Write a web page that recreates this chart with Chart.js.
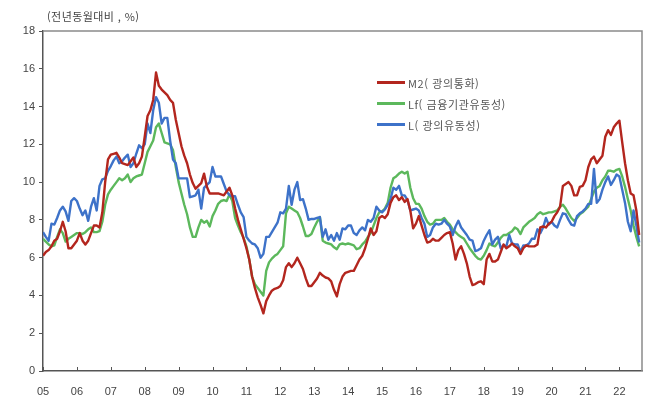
<!DOCTYPE html>
<html lang="ko">
<head>
  <meta charset="UTF-8">
  <title>M2 / Lf / L 증가율</title>
  <script src="https://cdn.jsdelivr.net/npm/chart.js"></script>
  <style>
    body { margin: 0; background: #fff; }
    .wrap { position: relative; width: 670px; height: 402px; }
    .unit {
      position: absolute; left: 47px; top: 9px;
      font: 11px "Noto Sans CJK KR", "Liberation Sans", sans-serif;
      color: #444; letter-spacing: 0.4px; line-height: 14px;
    }
    .legend {
      position: absolute; left: 377px; top: 72px;
      font: 11px "Noto Sans CJK KR", "Liberation Sans", sans-serif;
      color: #555; letter-spacing: 0.6px;
    }
    .legend div { height: 21px; line-height: 16px; display: flex; align-items: center; }
    .legend span.key { display: inline-block; width: 28px; height: 3px; margin-right: 3px; }
  </style>
</head>
<body>
  <div class="wrap">
    <canvas id="moneyChart" width="670" height="402"></canvas>
    <div class="unit">(전년동월대비 , %)</div>
    <div class="legend" id="legend"></div>
  </div>

  <script>
    // tick labels for the x axis (one per year, Jan)
    const years = ['05','06','07','08','09','10','11','12','13','14','15','16','17','18','19','20','21','22'];

    // monthly YoY growth, Jan 2005 - Aug 2022
    const m2 = [
      6.1, 6.3, 6.4, 6.6, 6.9, 7.0, 7.4, 7.9, 7.4, 6.5, 6.5, 6.7,
      6.9, 7.3, 6.9, 6.7, 6.9, 7.3, 7.7, 7.7, 7.6, 8.4, 10.0, 11.2,
      11.45, 11.5, 11.55, 11.3, 11.0, 10.95, 10.9, 11.1, 11.3, 10.8, 11.0, 11.35,
      12.4, 13.5, 13.8, 14.35, 15.8, 15.1, 14.9, 14.75, 14.6, 14.35, 14.2, 13.3,
      12.6, 11.9, 11.4, 11.0, 10.4, 9.95, 9.65, 9.8, 9.95, 10.45, 9.75, 9.4,
      9.4, 9.4, 9.4, 9.35, 9.3, 9.5, 9.7, 9.3, 8.6, 8.0, 7.5, 7.0,
      6.5, 5.9, 5.0, 4.4, 3.9, 3.5, 3.05, 3.7, 4.0, 4.25, 4.35, 4.4,
      4.5, 4.8, 5.5, 5.7, 5.5, 5.7, 6.0, 5.7, 5.4, 4.9, 4.5, 4.5,
      4.7, 4.9, 5.2, 5.05, 4.95, 4.9, 4.75, 4.3, 3.95, 4.6, 5.0, 5.2,
      5.25, 5.3, 5.3, 5.6, 5.9, 6.1, 6.5, 7.0, 7.55, 7.2, 7.4, 8.1,
      8.2, 8.1, 8.3, 8.9, 9.2, 9.3, 9.05, 9.2, 8.95, 9.1, 8.5, 7.55,
      7.8, 8.2, 7.7, 7.2, 6.8, 6.85, 7.0, 6.9, 6.9, 7.05, 7.2, 7.3,
      7.35, 6.75, 5.9, 6.4, 6.6, 6.2, 5.7, 5.0, 4.55, 4.6, 4.7, 4.75,
      4.6, 5.9, 6.2, 5.8, 5.8, 5.9, 6.3, 6.7, 6.5, 6.6, 6.75, 6.6,
      6.5, 6.2, 6.5, 6.65, 6.6, 6.6, 6.6, 6.7, 7.6, 7.65, 7.6, 7.8,
      7.9, 8.2, 8.4, 8.7, 9.8, 9.9, 10.0, 9.8, 9.3, 9.3, 9.75, 9.8,
      10.1, 10.8, 11.2, 11.35, 11.0, 11.2, 11.4, 12.4, 12.75, 12.5, 12.9, 13.1,
      13.25, 12.1, 11.0, 10.1, 9.4, 9.3, 8.5, 7.2
    ];
    const lf = [
      7.0, 6.85, 6.7, 6.6, 6.65, 7.1, 7.5, 7.3, 6.85, 7.0, 7.1, 7.2,
      7.3, 7.3, 7.25, 7.35, 7.5, 7.6, 7.35, 7.35, 7.4, 7.9, 8.8, 9.35,
      9.6, 9.8, 10.0, 10.2, 10.1, 10.2, 10.4, 10.0, 10.2, 10.3, 10.35, 10.4,
      11.0, 11.6, 11.9, 12.2, 12.9, 13.1, 12.6, 12.1, 12.05, 12.0, 11.7, 10.8,
      10.0, 9.4, 8.8, 8.3, 7.6, 7.1, 7.1, 7.6, 8.0, 7.85, 7.95, 7.65,
      8.2, 8.5, 8.85, 9.0, 9.05, 9.0, 9.35, 9.0, 8.1, 7.7, 7.35, 7.05,
      6.6, 5.9, 5.0, 4.6, 4.4, 4.2, 4.0, 5.3, 5.75, 5.95, 6.1, 6.2,
      6.4, 6.6, 8.35, 8.7, 8.6, 8.5, 8.4, 8.1, 7.65, 7.15, 7.15, 7.25,
      7.6, 7.9, 8.15, 6.9, 6.8, 6.75, 6.7, 6.55, 6.45, 6.7, 6.75, 6.7,
      6.75, 6.7, 6.65, 6.45, 6.5, 6.7, 6.85, 7.1, 7.3, 7.7, 8.1, 8.4,
      8.45, 8.6, 8.9, 9.7, 10.2, 10.3, 10.45, 10.55, 10.45, 10.55, 9.7, 9.15,
      8.85, 8.85, 8.6, 8.2, 7.9, 7.75, 7.8, 8.0, 8.0, 8.0, 8.1, 7.9,
      7.75, 7.5, 7.35, 7.2, 7.1, 7.0, 6.75, 6.5, 6.3, 6.1, 5.95, 5.9,
      6.1, 6.4, 6.75, 6.65, 6.6, 6.8, 7.05, 7.2, 7.2, 7.3, 7.4, 7.6,
      7.5, 7.25, 7.6, 7.75, 7.9, 8.0, 8.1, 8.3, 8.4, 8.3, 8.35, 8.4,
      8.4, 8.45, 8.5, 8.7, 8.8, 8.6, 8.35, 8.1, 7.95, 8.1, 8.3, 8.4,
      8.55, 8.7, 9.1, 9.5, 9.7, 9.8, 10.1, 10.3, 10.6, 10.6, 10.55, 10.65,
      10.7, 10.3, 9.75, 9.1, 8.5, 7.7, 7.1, 6.6
    ];
    const l = [
      7.35, 7.1, 6.9, 7.8, 7.75, 8.1, 8.5, 8.7, 8.45, 7.95, 9.0, 9.15,
      9.0, 8.6, 8.25, 8.5, 7.95, 8.7, 9.15, 8.5, 9.8, 10.15, 10.2, 10.6,
      10.85, 11.15, 11.35, 11.0, 11.1, 11.3, 11.45, 10.8, 11.0, 11.5, 11.95, 11.8,
      12.0, 13.1, 12.6, 13.8, 14.5, 14.2, 13.1, 13.4, 13.4, 12.2, 11.2, 11.0,
      10.2, 10.2, 10.2, 10.2, 9.2, 9.25, 9.3, 9.6, 8.6, 9.7, 9.85, 10.0,
      10.8, 10.3, 10.3, 10.3, 9.9, 9.5, 9.3, 9.25, 9.25, 8.8, 8.4, 8.15,
      7.1, 6.9, 6.75, 6.7, 6.5, 6.0, 6.2, 7.1, 7.1, 7.35, 7.6, 7.85,
      8.4, 8.35, 8.6, 9.8, 8.8, 9.6, 10.0, 9.05, 9.1, 8.6, 8.0, 8.05,
      8.05, 8.1, 8.15, 7.1, 7.5, 6.95, 7.2, 6.9, 7.3, 6.95, 7.55, 7.5,
      7.7, 7.7, 7.3, 7.2, 7.45, 7.6, 7.45, 8.0, 7.9, 8.1, 8.7, 8.5,
      8.4, 8.55, 8.8, 9.1, 9.7, 9.6, 9.8, 9.3, 9.3, 9.05, 8.5, 8.55,
      8.6, 8.5, 8.1, 7.8, 7.1, 7.2, 7.6, 7.8, 7.75, 7.8, 8.0, 7.8,
      7.65, 7.2, 7.65, 7.95, 7.6, 7.4, 7.2, 6.95, 6.9, 6.35, 6.4, 6.5,
      6.9, 7.2, 7.45, 6.7, 6.95, 7.1, 6.5, 6.65, 6.6, 7.2, 6.75, 6.7,
      6.7, 6.3, 6.65, 6.65, 6.75, 7.0, 7.0, 7.5, 7.3, 7.6, 8.1, 7.75,
      7.9, 7.7, 7.6, 8.0, 8.35, 8.3, 8.0, 7.75, 7.7, 8.2, 8.35, 8.45,
      8.6, 8.85, 8.85, 10.7, 8.9, 9.1, 9.6, 10.0, 10.3, 9.85, 10.1, 10.4,
      10.3, 9.6, 8.9, 7.9, 7.4, 8.5, 7.7, 6.8
    ];

    const seriesNames = ['M2( 광의통화)', 'Lf( 금융기관유동성)', 'L( 광의유동성)'];
    const seriesColors = ['#b3261e', '#5cb85c', '#3d72c9'];

    const toPoints = arr => arr.map((v, i) => ({ x: i, y: v }));

    // legend as plain html
    const legendBox = document.getElementById('legend');
    seriesNames.forEach((name, i) => {
      const row = document.createElement('div');
      row.innerHTML = `<span class="key" style="background:${seriesColors[i]}"></span>${name}`;
      legendBox.appendChild(row);
    });

    // top/right frame and inward year ticks
    const framePlugin = {
      id: 'frame',
      beforeDatasetsDraw(chart) {
        const { ctx, chartArea: a, scales } = chart;
        ctx.save();
        ctx.strokeStyle = '#8a8a8a';
        ctx.lineWidth = 1.5;
        ctx.beginPath();
        ctx.moveTo(a.left, a.top);
        ctx.lineTo(a.right, a.top);
        ctx.lineTo(a.right, a.bottom);
        ctx.stroke();
        ctx.strokeStyle = '#555';
        ctx.lineWidth = 1;
        ctx.beginPath();
        years.forEach((y, i) => {
          const px = Math.round(scales.x.getPixelForValue(i * 12)) + 0.5;
          ctx.moveTo(px, a.bottom);
          ctx.lineTo(px, a.bottom - 4);
        });
        ctx.stroke();
        ctx.restore();
      }
    };

    const tickFont = { family: '"Liberation Sans Narrow", "Liberation Sans", Arial, sans-serif', size: 11 };

    new Chart(document.getElementById('moneyChart'), {
      type: 'line',
      data: {
        datasets: [
          { label: seriesNames[0], data: toPoints(m2), borderColor: seriesColors[0] },
          { label: seriesNames[2], data: toPoints(l), borderColor: seriesColors[2] },
          { label: seriesNames[1], data: toPoints(lf), borderColor: seriesColors[1] }
        ]
      },
      options: {
        responsive: false,
        animation: false,
        events: [],
        layout: { padding: { top: 31, right: 28, left: 0, bottom: 0 } },
        elements: {
          point: { radius: 0 },
          line: { borderWidth: 2.4, tension: 0, borderJoinStyle: 'round' }
        },
        plugins: { legend: { display: false }, tooltip: { enabled: false } },
        scales: {
          x: {
            type: 'linear',
            min: 0,
            max: 212,
            // one tick per January, taken from the years list
            afterBuildTicks: s => { s.ticks = years.map((_, i) => ({ value: i * 12 })); },
            afterFit: s => { s.height = 31; },
            ticks: {
              autoSkip: false,
              maxRotation: 0,
              padding: 6,
              color: '#444',
              font: tickFont,
              callback: v => years[Math.round(v / 12)]
            },
            grid: { display: false },
            border: { display: true, color: '#555', width: 1.5 }
          },
          y: {
            min: 0,
            max: 18,
            afterFit: s => { s.width = 43; },
            ticks: { stepSize: 2, padding: 4, color: '#444', font: tickFont },
            grid: { drawOnChartArea: false, tickLength: 4, color: '#555' },
            border: { display: true, color: '#555', width: 1.5 }
          }
        }
      },
      plugins: [framePlugin]
    });
  </script>
</body>
</html>
